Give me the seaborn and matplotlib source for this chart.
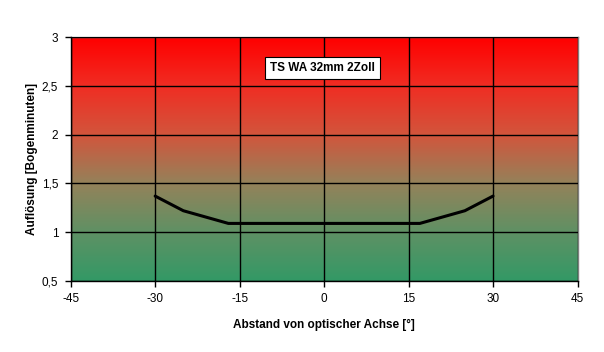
import numpy as np
import pandas as pd
import matplotlib
matplotlib.use("Agg")
import matplotlib.pyplot as plt
import seaborn as sns
from matplotlib.colors import LinearSegmentedColormap
from matplotlib.ticker import FuncFormatter

# Data
angle = [-30, -25, -17, 0, 17, 25, 30]
resolution = [1.37, 1.22, 1.09, 1.09, 1.09, 1.22, 1.37]
x_ticks = [-45, -30, -15, 0, 15, 30, 45]
y_ticks = [0.5, 1.0, 1.5, 2.0, 2.5, 3.0]
title_text = "TS WA 32mm 2Zoll"
x_label = "Abstand von optischer Achse [°]"
y_label = "Auflösung [Bogenminuten]"

df = pd.DataFrame({"angle": angle, "res": resolution})

sns.set_style("white")
plt.rcParams['font.family'] = ['Liberation Sans', 'DejaVu Sans']
plt.rcParams['axes.unicode_minus'] = False
plt.rcParams['text.color'] = 'black'
plt.rcParams['axes.labelcolor'] = 'black'
plt.rcParams['xtick.color'] = 'black'
plt.rcParams['ytick.color'] = 'black'

fig = plt.figure(figsize=(6.04, 3.52), dpi=100)
ax = fig.add_axes([70.7/604, 1-281/352, (577.5-70.7)/604, (281-37)/352])

# gradient background (bottom green -> top red)
stops = [
    (0.0, (51/255, 153/255, 102/255)),
    (0.2, (95/255, 145/255, 100/255)),
    (0.4, (148/255, 130/255, 90/255)),
    (0.6, (210/255, 85/255, 60/255)),
    (0.8, (240/255, 45/255, 35/255)),
    (1.0, (255/255, 0/255, 0/255)),
]
cmap = LinearSegmentedColormap.from_list("rg", stops)
grad = np.linspace(0, 1, 256).reshape(-1, 1)
ax.imshow(grad, cmap=cmap, origin="lower", aspect="auto",
          extent=[-45, 45, 0.5, 3], zorder=0)

sns.lineplot(data=df, x="angle", y="res", ax=ax, color="black",
             linewidth=2.2, zorder=3)

ax.set_xlim(-45, 45)
ax.set_ylim(0.5, 3)
ax.set_xticks(x_ticks)
ax.set_yticks(y_ticks)
ax.yaxis.set_major_formatter(FuncFormatter(
    lambda v, p: (("%g" % v).replace(".", ","))))
ax.grid(True, color="black", linewidth=1.0, zorder=1)
ax.set_axisbelow(False)
for gl in ax.get_xgridlines() + ax.get_ygridlines():
    gl.set_zorder(1)

ax.tick_params(axis="both", direction="out", length=4, width=1,
               color="black", labelsize=8.5, pad=5, bottom=True, left=True,
               labelcolor="black")
for s in ["left", "bottom"]:
    ax.spines[s].set_color("black")
    ax.spines[s].set_linewidth(1)
for s in ["top", "right"]:
    ax.spines[s].set_color("#808080")
    ax.spines[s].set_linewidth(1)

ax.set_xlabel(x_label, fontsize=8.5, fontweight="bold", labelpad=10,
              color="black")
ax.set_ylabel(y_label, fontsize=8.5, fontweight="bold", labelpad=3,
              color="black")

ax.text(0.497, 0.873, title_text, transform=ax.transAxes, ha="center",
        va="center", fontsize=8.5, fontweight="bold", zorder=5,
        color="black",
        bbox=dict(boxstyle="square,pad=0.45", facecolor="white",
                  edgecolor="black", linewidth=0.8))

fig.savefig("out.png", dpi=100)
